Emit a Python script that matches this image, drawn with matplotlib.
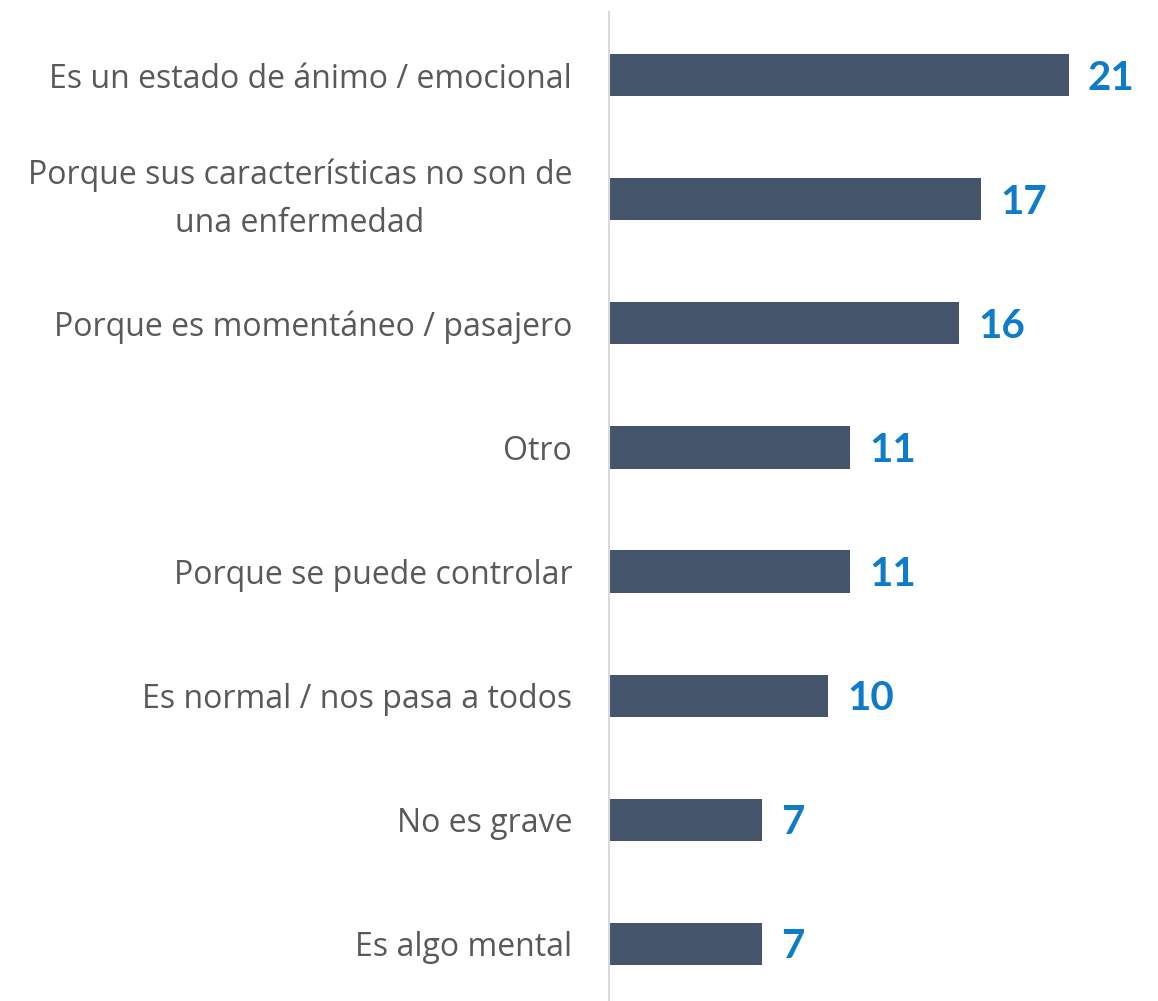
import matplotlib
matplotlib.use("Agg")
import matplotlib.pyplot as plt

categories = [
    "Es un estado de ánimo / emocional",
    "Porque sus características no son de\nuna enfermedad",
    "Porque es momentáneo / pasajero",
    "Otro",
    "Porque se puede controlar",
    "Es normal / nos pasa a todos",
    "No es grave",
    "Es algo mental",
]
values = [21, 17, 16, 11, 11, 10, 7, 7]

W, H = 1158, 1001
fig = plt.figure(figsize=(W / 100, H / 100), dpi=100)
ax = fig.add_axes([609 / W, 0, (W - 609) / W, (1001 - 12) / H])

pos = list(range(len(categories)))
ax.barh(pos, values, height=0.34, color="#44546A", zorder=2)
ax.set_xlim(0, 25.07)
ax.set_ylim(7.46, -0.508)

for p, v in zip(pos, values):
    ax.annotate(str(v), xy=(v, p), xytext=(19, -3), textcoords="offset pixels",
                ha="left", va="center", fontsize=29, fontweight="bold",
                color="#0E7CC9", family=["Lato", "DejaVu Sans"])

ax.set_yticks(pos)
ax.set_yticklabels(categories, fontsize=23, color="#595959", family=["Open Sans", "DejaVu Sans"],
                   multialignment="center", linespacing=1.6)
for lbl in ax.get_yticklabels():
    if "\n" in lbl.get_text():
        lbl.set_va("center")
ax.tick_params(axis="y", length=0, pad=26.5)
ax.set_xticks([])
for s in ["top", "right", "bottom"]:
    ax.spines[s].set_visible(False)
ax.spines["left"].set_color("#D9D9D9")
ax.spines["left"].set_linewidth(1.5)

fig.savefig("out.png", dpi=100, facecolor="white")
